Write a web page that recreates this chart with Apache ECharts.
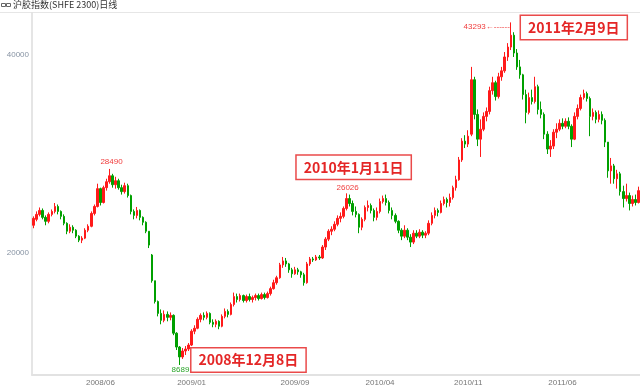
<!DOCTYPE html>
<html><head><meta charset="utf-8">
<script src="https://cdn.jsdelivr.net/npm/echarts@6/dist/echarts.min.js"></script>
<style>html,body{margin:0;padding:0;background:#fff}#c{width:640px;height:387px}</style>
</head><body><div id="c"></div>
<script>
// Weekly candles (trading weeks), [open, close, low, high]
const dates2008 = ['2008/01/02','2008/01/07','2008/01/14','2008/01/21','2008/01/28','2008/02/04','2008/02/13','2008/02/18','2008/02/25','2008/03/03','2008/03/10','2008/03/17','2008/03/24','2008/03/31','2008/04/07','2008/04/14','2008/04/21','2008/04/28','2008/05/05','2008/05/12','2008/05/19','2008/05/26','2008/06/02','2008/06/09','2008/06/16','2008/06/23','2008/06/30','2008/07/07','2008/07/14','2008/07/21','2008/07/28','2008/08/04','2008/08/11','2008/08/18','2008/08/25','2008/09/01','2008/09/08','2008/09/15','2008/09/22','2008/10/06','2008/10/13','2008/10/20','2008/10/27','2008/11/03','2008/11/10','2008/11/17','2008/11/24','2008/12/01','2008/12/08','2008/12/15','2008/12/22','2008/12/29'];
const dates2009 = ['2009/01/05','2009/01/12','2009/01/19','2009/02/02','2009/02/09','2009/02/16','2009/02/23','2009/03/02','2009/03/09','2009/03/16','2009/03/23','2009/03/30','2009/04/06','2009/04/13','2009/04/20','2009/04/27','2009/05/04','2009/05/11','2009/05/18','2009/05/25','2009/06/01','2009/06/08','2009/06/15','2009/06/22','2009/06/29','2009/07/06','2009/07/13','2009/07/20','2009/07/27','2009/08/03','2009/08/10','2009/08/17','2009/08/24','2009/08/31','2009/09/07','2009/09/14','2009/09/21','2009/09/28','2009/10/12','2009/10/19','2009/10/26','2009/11/02','2009/11/09','2009/11/16','2009/11/23','2009/11/30','2009/12/07','2009/12/14','2009/12/21','2009/12/28'];
const dates2010 = ['2010/01/04','2010/01/11','2010/01/18','2010/01/25','2010/02/01','2010/02/08','2010/02/22','2010/03/01','2010/03/08','2010/03/15','2010/03/22','2010/03/29','2010/04/05','2010/04/12','2010/04/19','2010/04/26','2010/05/03','2010/05/10','2010/05/17','2010/05/24','2010/05/31','2010/06/07','2010/06/14','2010/06/21','2010/06/28','2010/07/05','2010/07/12','2010/07/19','2010/07/26','2010/08/02','2010/08/09','2010/08/16','2010/08/23','2010/08/30','2010/09/06','2010/09/13','2010/09/20','2010/09/27','2010/10/11','2010/10/18','2010/10/25','2010/11/01','2010/11/08','2010/11/15','2010/11/22','2010/11/29','2010/12/06','2010/12/13','2010/12/20','2010/12/27'];
const dates2011 = ['2011/01/03','2011/01/10','2011/01/17','2011/01/24','2011/01/31','2011/02/09','2011/02/14','2011/02/21','2011/02/28','2011/03/07','2011/03/14','2011/03/21','2011/03/28','2011/04/04','2011/04/11','2011/04/18','2011/04/25','2011/05/02','2011/05/09','2011/05/16','2011/05/23','2011/05/30','2011/06/07','2011/06/13','2011/06/20','2011/06/27','2011/07/04','2011/07/11','2011/07/18','2011/07/25','2011/08/01','2011/08/08','2011/08/15','2011/08/22','2011/08/29','2011/09/05','2011/09/12','2011/09/19','2011/09/26','2011/10/10','2011/10/17','2011/10/24','2011/10/31','2011/11/07','2011/11/14','2011/11/21','2011/11/28','2011/12/05'];

const ohlc2008 = [[22800,23500,22500,23700],[23400,23900,23200,24200],[23900,24300,23700,24600],[24300,23600,23400,24500],[23600,23200,22800,23800],[23200,23900,23000,24100],[23900,24200,23700,24400],[24200,24700,24000,25050],[24700,24200,23900,24900],[24200,23700,23400,24300],[23700,23000,22800,23900],[23000,22200,21900,23100],[22200,22600,22000,22900],[22600,22300,22000,22800],[22300,21700,21500,22400],[21700,21300,21100,21800],[21300,21500,21000,21700],[21500,22300,21400,22500],[22300,22700,22100,22900],[22700,24000,22600,24200],[24000,24700,23800,24900],[24700,26500,24600,27000],[26500,25100,24800,26600],[25100,26600,25000,26800],[26600,27200,26300,27500],[27200,27800,27000,28490],[27800,26900,26600,28000],[26900,27300,26500,27700],[27300,26600,26400,27500],[26600,26200,25900,26900],[26200,26800,26000,27100],[26800,25800,25600,27000],[25800,24200,23900,25900],[24200,23800,23400,24400],[23800,24300,23500,24650],[24300,23600,23300,24400],[23600,23100,22800,23700],[23100,22200,22000,23200],[22200,20800,20500,22200],[19800,17200,17000,19900],[17200,15100,14900,17200],[15100,13900,13600,15200],[13900,13200,12800,14300],[13200,13800,13000,14200],[13800,13500,13100,14100],[13500,13700,13200,14000],[13700,11900,11700,13800],[11900,10500,10200,12000],[10500,9500,8689,10600],[9500,10100,9300,10400],[10100,10300,9700,10600],[10300,10700,10100,10900]];
const ohlc2009 = [[10700,12100,10600,12300],[12100,12400,11800,12700],[12400,13300,12300,13500],[13300,13700,13000,13900],[13700,13500,13200,14000],[13500,13900,13300,14100],[13900,13000,12800,14000],[13000,12800,12500,13300],[12800,13100,12500,13300],[13100,12600,12300,13200],[12600,13600,12500,13800],[13600,14100,13400,14400],[14100,13800,13500,14300],[13800,14800,13700,15000],[14800,15600,14600,16000],[15600,15300,15000,15900],[15300,15700,15100,15900],[15700,15200,15000,15800],[15200,15600,15000,15800],[15600,15300,15100,15900],[15300,15500,15000,15700],[15500,15700,15200,15900],[15700,15400,15200,15900],[15400,15800,15300,16000],[15800,15500,15300,16000],[15500,15900,15400,16100],[15900,16400,15700,16600],[16400,17000,16300,17300],[17000,17500,16800,17700],[17500,18800,17400,19000],[18800,19200,18500,19600],[19200,18900,18600,19500],[18900,18300,18000,19000],[18300,17900,17500,18500],[17900,18300,17800,18600],[18300,18100,17800,18500],[18100,17800,17500,18200],[17800,17000,16700,18000],[17000,18900,16900,19100],[18900,19400,18700,19600],[19400,19300,19100,19600],[19300,19600,19200,19800],[19600,19500,19300,19800],[19500,20600,19400,20800],[20600,21400,20300,21600],[21400,22200,21200,22400],[22200,22400,21800,22700],[22400,22900,22200,23200],[22900,23500,22700,23800],[23500,23700,23100,24100]];
const ohlc2010 = [[23700,24500,23500,24700],[24500,25500,24300,26026],[25500,25000,24700,25900],[25000,24200,23800,25300],[24200,23900,23600,24700],[23900,22600,22000,24000],[22600,23400,22300,23600],[23400,24600,23200,24800],[24600,24800,24200,25300],[24800,24300,24000,25000],[24300,23600,23200,24500],[23600,24200,23300,24600],[24200,25200,24000,25500],[25200,25500,25000,25800],[25500,25100,24800,25900],[25100,24300,24000,25300],[24300,23800,23400,24600],[23800,23200,23000,24000],[23200,22300,22000,23300],[22300,21700,21300,22500],[21700,22300,21500,22800],[22300,21600,21300,22500],[21600,21100,20600,21900],[21100,22000,20900,22300],[22000,21700,21500,22300],[21700,22100,21500,22400],[22100,21800,21500,22300],[21800,22000,21500,22200],[22000,23000,21800,23300],[23000,23800,22800,24100],[23800,24300,23500,24600],[24300,24100,23700,24500],[24100,25000,24000,25300],[25000,25400,24800,25700],[25400,25100,24600,25600],[25100,25600,24700,26000],[25600,26600,25400,26800],[26600,27400,26300,27800],[27400,29400,27300,29700],[29400,31300,29200,31600],[31300,31000,30600,31900],[31000,31800,30700,32400],[32000,37500,31800,38800],[37500,34000,33500,37800],[34000,31500,30800,34500],[31500,32500,29700,33500],[32500,33800,32300,34200],[33800,34300,33300,34700],[34300,36400,34000,36800],[36400,37200,36000,37800]];
const ohlc2011 = [[37200,35800,35400,37400],[35800,37800,35600,38200],[37800,38400,37400,38800],[38400,39800,38200,40300],[39800,40800,39400,41200],[40800,42000,40500,43293],[42000,40200,39800,42300],[40200,38800,38500,40600],[38800,38000,37600,39500],[38000,36000,35500,38100],[36000,34200,33100,36500],[34200,35700,34000,36200],[35700,35300,35000,36500],[35300,36800,35100,37800],[36800,34500,34000,37000],[34500,34000,33600,35300],[34000,32000,31500,34200],[32000,30500,30000,32300],[30500,30800,29700,31400],[30800,32200,30500,32500],[32200,32500,31600,33100],[32500,33100,32300,33500],[33100,32800,32500,33600],[32800,33300,32600,33600],[33300,32800,32500,33700],[32800,31500,30700,33000],[31500,33800,31400,34200],[33800,34600,33500,35000],[34600,35700,34400,36000],[35700,36100,35500,36500],[36100,35600,35300,36300],[35600,33800,31800,35800],[33800,34200,33400,34600],[34200,33500,33100,34400],[33500,34000,33200,34400],[34000,33400,33000,34300],[33400,31200,30700,33600],[31200,28300,27600,31200],[28300,28800,27000,29600],[28800,27500,27000,29000],[27500,28000,26500,28400],[28000,26200,25800,28200],[26200,25500,24600,26800],[25500,25800,25200,27000],[25800,25000,24300,26100],[25000,25400,24700,25800],[25400,25100,24800,25900],[25100,26300,25000,26700]];

const tickLabels = ['2008/06','2009/01','2009/09','2010/04','2010/11','2011/06'];
const yTicks = [20000, 40000];
const titleText = '沪胶指数(SHFE 2300)日线';
// extreme-value labels: [date, value]
const valueMarks = [['2008/06/23', 28490], ['2010/01/11', 26026], ['2011/02/09', 43293], ['2008/12/08', 8689]];
const noteMarks = [['2008/12/08', 8689, '2008年12月8日'], ['2010/01/11', 26026, '2010年1月11日'], ['2011/02/09', 43293, '2011年2月9日']];

const dates = dates2008.concat(dates2009, dates2010, dates2011);
const ohlc = ohlc2008.concat(ohlc2009, ohlc2010, ohlc2011);

const labelIdx = new Set(tickLabels.map(t => dates.findIndex(d => d.slice(0, 7) === t)));

const UP = '#ff1a1a', DOWN = '#00a000';
const valLabelStyle = [
  {offset: [2, -7], color: '#f03c3c', formatter: '{c}'},
  {offset: [1, -6], color: '#f03c3c', formatter: '{c}'},
  {offset: [-1, 4], color: '#f03c3c', formatter: '{c}←------', align: 'right'},
  {offset: [1, 5], color: '#2aa52a', formatter: '{c}'}
];
const noteOffsets = [[69, -5], [7, -26], [63, 5]];

const mpData = [];
valueMarks.forEach((m, i) => {
  const s = valLabelStyle[i];
  mpData.push({
    coord: [m[0], m[1]], value: m[1],
    label: {show: true, position: 'inside', offset: s.offset, color: s.color, fontSize: 8,
      fontFamily: 'Liberation Sans, Arial, sans-serif', formatter: s.formatter, align: s.align || 'center'}
  });
});
noteMarks.forEach((m, i) => {
  mpData.push({
    coord: [m[0], m[1]], value: m[1], name: m[2],
    label: {show: true, position: 'inside', offset: noteOffsets[i], formatter: m[2],
      color: '#e42626', fontSize: 14, fontWeight: 'bold', fontFamily: 'Noto Sans CJK SC, sans-serif',
      backgroundColor: '#fff', borderColor: '#ea4a4a', borderWidth: 1.5, padding: [5, 7, 4, 7]}
  });
});

const chart = echarts.init(document.getElementById('c'), null, {renderer: 'canvas'});
chart.setOption({
  animation: false,
  backgroundColor: '#fff',
  grid: {left: 32, right: 0, top: 13, bottom: 12, containLabel: false},
  xAxis: {
    type: 'category', data: dates, boundaryGap: true,
    axisLine: {show: true, lineStyle: {color: '#e2e2e2', width: 2}},
    axisTick: {show: false},
    splitLine: {show: false},
    axisLabel: {
      interval: (idx) => labelIdx.has(idx),
      formatter: v => v.slice(0, 7),
      color: '#777', fontSize: 8, fontFamily: 'Liberation Sans, Arial, sans-serif', margin: 4
    }
  },
  yAxis: {
    type: 'value', min: 7677, max: 44242, scale: true,
    axisLine: {show: true, lineStyle: {color: '#dcdcdc', width: 1.5}},
    axisTick: {show: false},
    splitLine: {show: false},
    axisLabel: {
      customValues: yTicks, formatter: v => String(v), color: '#8793a3', fontSize: 8,
      fontFamily: 'Liberation Sans, Arial, sans-serif', margin: 3
    }
  },
  graphic: [
    {type: 'line', shape: {x1: 0, y1: 12.5, x2: 640, y2: 12.5}, style: {stroke: '#e6e6e6', lineWidth: 1}},
    {type: 'rect', shape: {x: 1.5, y: 3.5, width: 4, height: 3}, style: {fill: 'none', stroke: '#666', lineWidth: 1}},
    {type: 'rect', shape: {x: 6.5, y: 3.5, width: 4, height: 3}, style: {fill: 'none', stroke: '#666', lineWidth: 1}},
    {type: 'text', left: 13, top: 0, style: {text: titleText, fill: '#333', fontSize: 9, fontFamily: 'Noto Sans CJK SC, sans-serif'}}
  ],
  series: [{
    type: 'candlestick',
    data: ohlc,
    barWidth: 2,
    itemStyle: {color: UP, color0: DOWN, borderColor: UP, borderColor0: DOWN, borderWidth: 1},
    markPoint: {
      symbol: 'circle', symbolSize: 1,
      itemStyle: {color: 'rgba(0,0,0,0)'},
      data: mpData
    }
  }]
});
</script></body></html>
